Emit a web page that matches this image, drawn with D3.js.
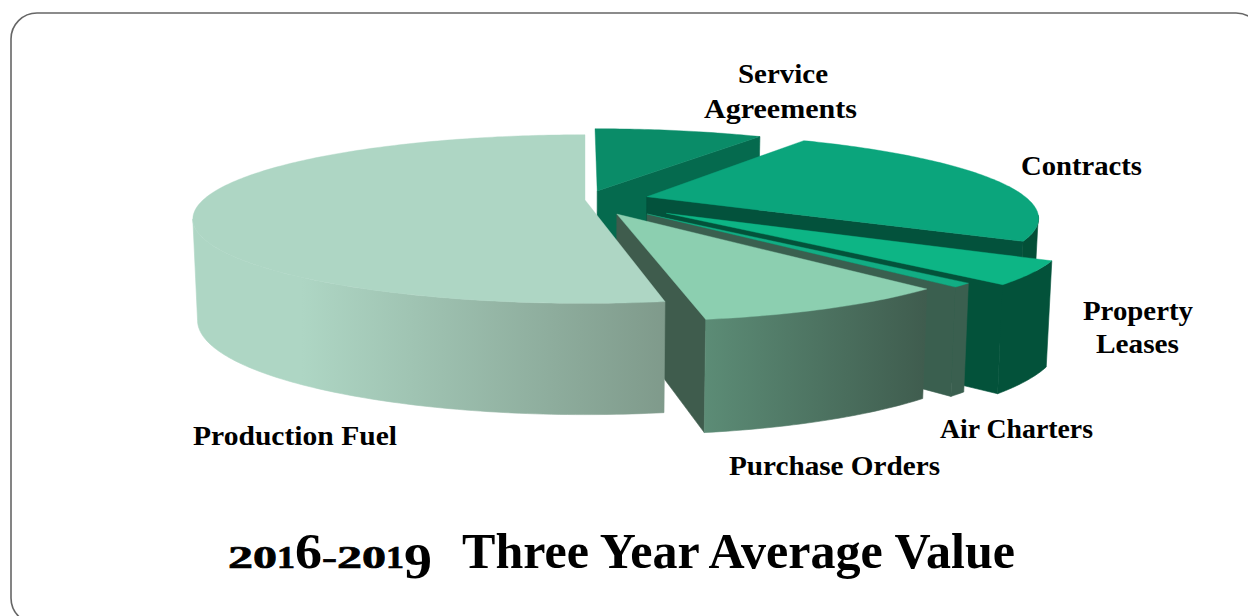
<!DOCTYPE html>
<html>
<head>
<meta charset="utf-8">
<script src="https://cdn.jsdelivr.net/npm/d3@7"></script>
<style>
  html, body { margin: 0; padding: 0; background: #fff; overflow: hidden; }
  text { font-family: "Liberation Serif", serif; font-weight: bold; fill: #000; }
</style>
</head>
<body>
<div id="chart"></div>
<script>
// values, share of total in percent
var categories = ["Service Agreements", "Contracts", "Property Leases", "Air Charters", "Purchase Orders", "Production Fuel"]
var shares = [8.8, 24.6, 4.3, 0.8, 8.9, 52.6]

// how far each slice is pulled out of the pie, and its radius, in pie radii
var explode = [0.12, 0.168, 0.26, 0.23, 0.187, 0]
var slice_radius = [1, 1, 0.97, 0.94, 0.96, 1]

var title_years = "2016-2019"
var title_rest = "Three Year Average Value"

// colours of each slice
var top_colours = ["#0a8c68", "#0ba57c", "#0db585", "#12ad84", "#8ccfb0", "#aed6c4"]
var side_colours = ["#056a4e", "#03523c", "#03523a", "#3a5f4f", "#3f5c4d", "#7f9a8b"]
var wall_light = [null, "#034f37", "#03523a", "#3a5f4f", "#5c8c76", "#aed6c4"]
var wall_dark = [null, "#034f37", "#03523a", "#3a5f4f", "#3f5c4e", "#7f9a8b"]

// labels, one line per entry, with the box each line fills
var labels = [
  {text: "Service", x: 738, y: 83, w: 90},
  {text: "Agreements", x: 704, y: 118, w: 153},
  {text: "Contracts", x: 1021, y: 175, w: 121},
  {text: "Property", x: 1083, y: 320, w: 110},
  {text: "Leases", x: 1096, y: 353, w: 83},
  {text: "Air Charters", x: 940, y: 438, w: 153},
  {text: "Purchase Orders", x: 729, y: 475, w: 211},
  {text: "Production Fuel", x: 193, y: 445, w: 204}
]

// advance of each figure in the title years
var year_widths = [25, 24, 18, 27, 15, 25, 24, 18, 28]

var width = 1248, height = 616

// parameters of the tilted plane the pie lies on
var centre_x = 585, centre_y = 200
var radius_x = 382, radius_y = 80, perspective = 0.226
var front_from = 103 * Math.PI / 180, front_to = 257 * Math.PI / 180

var svg = d3.select("#chart").append("svg")
  .attr("width", width)
  .attr("height", height)
  .style("display", "block")

var defs = svg.append("defs")

// frame round the chart, runs off the right and bottom of the picture
svg.append("rect")
  .attr("x", 11).attr("y", 13)
  .attr("width", 1251).attr("height", 611)
  .attr("rx", 26).attr("ry", 26)
  .attr("fill", "#fff")
  .attr("stroke", "#666")
  .attr("stroke-width", 1.6)

// turn plane position plus depth (0 is top, 1 is bottom) into a screen point
function project(x, v, depth) {
  var w = 1 - perspective * v
  var sx = radius_x * x / w
  var sy = radius_y * v / w
  return [
    centre_x + sx * (1 - 0.012 * depth),
    centre_y + sy + depth * (57 + 42 / w)
  ]
}

// point on the rim of a slice, angle clockwise from the far side
function rim(d, angle, depth) {
  var mid = (d.startAngle + d.endAngle) / 2
  var ex = explode[d.index] * Math.sin(mid)
  var ev = -explode[d.index] * Math.cos(mid)
  var r = slice_radius[d.index]
  return project(ex + r * Math.sin(angle), ev - r * Math.cos(angle), depth)
}

// point at the tip of a slice
function tip(d, depth) {
  var mid = (d.startAngle + d.endAngle) / 2
  return project(explode[d.index] * Math.sin(mid), -explode[d.index] * Math.cos(mid), depth)
}

function arc_angles(a, b) {
  var n = Math.max(2, Math.ceil((b - a) * 60))
  return d3.range(n + 1).map(function(i) { return a + (b - a) * i / n })
}

var line = d3.line()

var pie = d3.pie().sort(null).value(function(d) { return d })
var slices = pie(shares)

// slices are painted far to near, the big one goes last
slices.forEach(function(d, i) {

  var g = svg.append("g").attr("class", "slice")

  // side wall along the closing edge
  if (d.endAngle < Math.PI) {
    g.append("path")
      .attr("d", line([tip(d, 0), rim(d, d.endAngle, 0), rim(d, d.endAngle, 1), tip(d, 1)]) + "Z")
      .attr("fill", side_colours[i])
      .attr("stroke", side_colours[i])
      .attr("stroke-width", 0.6)
  }

  // outer wall, only the part turned to the viewer
  var from = Math.max(d.startAngle, front_from), to = Math.min(d.endAngle, front_to)
  if (to > from) {
    var angles = arc_angles(from, to)
    var upper = angles.map(function(a) { return rim(d, a, 0) })
    var lower = angles.map(function(a) { return rim(d, a, 1) }).reverse()

    var xs = upper.concat(lower).map(function(p) { return p[0] })
    var grad = defs.append("linearGradient")
      .attr("id", "wall" + i)
      .attr("gradientUnits", "userSpaceOnUse")
      .attr("y1", 0).attr("y2", 0)

    if (i == 5) {
      // big slice runs right to left and stays flat at its far left end
      grad.attr("x1", d3.max(xs)).attr("x2", d3.min(xs))
      grad.append("stop").attr("offset", 0).attr("stop-color", wall_dark[i])
      grad.append("stop").attr("offset", 0.77).attr("stop-color", wall_light[i])
    } else {
      grad.attr("x1", d3.min(xs)).attr("x2", d3.max(xs))
      grad.append("stop").attr("offset", 0).attr("stop-color", wall_light[i])
      grad.append("stop").attr("offset", 1).attr("stop-color", wall_dark[i])
    }

    g.append("path")
      .attr("d", line(upper.concat(lower)) + "Z")
      .attr("fill", "url(#wall" + i + ")")
      .attr("stroke", "url(#wall" + i + ")")
      .attr("stroke-width", 0.6)
  }

  // top face
  var outline = [tip(d, 0)].concat(arc_angles(d.startAngle, d.endAngle).map(function(a) { return rim(d, a, 0) }))
  g.append("path")
    .attr("d", line(outline) + "Z")
    .attr("fill", top_colours[i])
    .attr("stroke", top_colours[i])
    .attr("stroke-width", 0.4)
})

svg.selectAll(".label")
  .data(labels)
  .enter().append("text")
  .attr("class", "label")
  .attr("x", function(d) { return d.x })
  .attr("y", function(d) { return d.y })
  .attr("font-size", 27)
  .attr("textLength", function(d) { return d.w })
  .attr("lengthAdjust", "spacingAndGlyphs")
  .text(function(d) { return d.text })

// years in the title use old style figures, 6 stands tall and 9 hangs down
var years = svg.append("text")
  .attr("class", "title")
  .attr("x", 228)
  .attr("y", 568)

title_years.split("").forEach(function(ch, i) {
  var tall = ch == "6" || ch == "9"
  var span = years.append("tspan")
    .attr("font-size", tall ? 50 : 32)
    .attr("textLength", year_widths[i])
    .attr("lengthAdjust", "spacingAndGlyphs")
    .attr("stroke", tall ? "none" : "#000")
    .attr("stroke-width", 0.7)
    .text(ch)
  if (ch == "9") span.attr("dy", 10)
})

svg.append("text")
  .attr("class", "title")
  .attr("x", 462)
  .attr("y", 568)
  .attr("font-size", 50)
  .attr("textLength", 553)
  .attr("lengthAdjust", "spacingAndGlyphs")
  .text(title_rest)
</script>
</body>
</html>
